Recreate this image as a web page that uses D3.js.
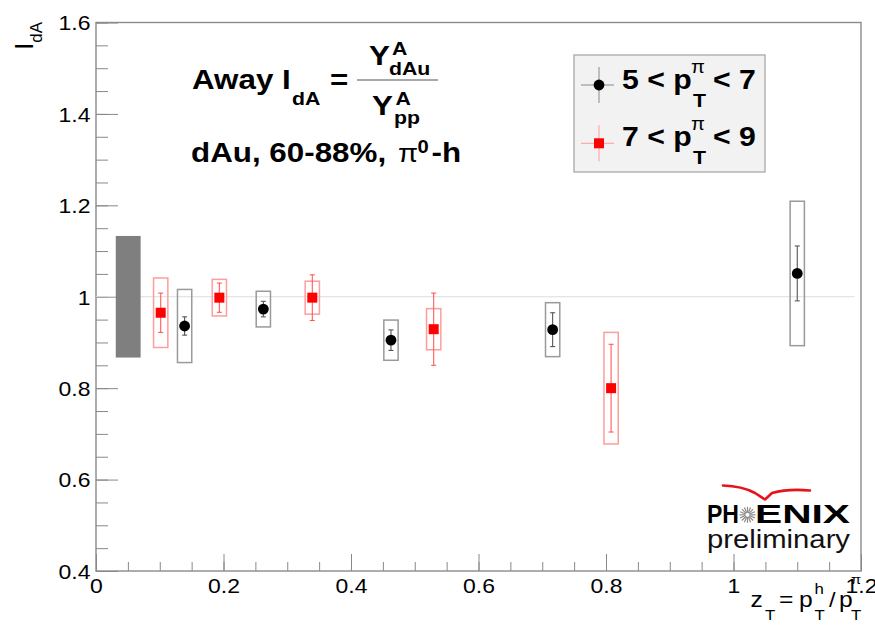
<!DOCTYPE html>
<html>
<head>
<meta charset="utf-8">
<script src="https://cdn.jsdelivr.net/npm/d3@7"></script>
<style>
  html, body { margin: 0; padding: 0; background: #fff; }
  svg { display: block; }
</style>
</head>
<body>
<svg id="chart" width="875" height="637"></svg>
<script>
// ---------------- data ----------------
const xTicks = [0, 0.2, 0.4, 0.6, 0.8, 1, 1.2];
const yTicks = [0.4, 0.6, 0.8, 1, 1.2, 1.4, 1.6];

// 5 < pT(pi) < 7  (black circles)
const blackX    = [0.139, 0.2625, 0.4627, 0.7163, 1.100];
const blackY    = [0.936, 0.973, 0.905, 0.928, 1.051];
const blackStat = [0.020, 0.017, 0.0225, 0.037, 0.060];
const blackSys  = [0.080, 0.039, 0.044, 0.059, 0.158];

// 7 < pT(pi) < 9  (red squares)
const redX    = [0.1015, 0.1935, 0.3393, 0.5297, 0.808];
const redY    = [0.965, 0.998, 0.998, 0.929, 0.800];
const redStat = [0.043, 0.032, 0.050, 0.079, 0.096];
const redSys  = [0.076, 0.040, 0.036, 0.045, 0.122];

// global normalisation uncertainty band
const normBand = { x0: 0.031, x1: 0.070, lo: 0.867, hi: 1.133 };
const sysHalfWidth = 0.0112;
const refLine = { x0: 0, x1: 1.19, y: 1 };

// ---------------- setup ----------------
const FF = '"Liberation Sans", Arial, Helvetica, sans-serif';
const SX = 1.12;
const svg = d3.select('#chart');
const x = d3.scaleLinear([0, 1.2], [96, 861]);
const y = d3.scaleLinear([0.4, 1.6], [571, 22.5]);

function T(parent, px, py, str, o = {}) {
  const t = parent.append('text')
    .attr('transform', `translate(${px},${py}) scale(${o.sx ?? SX},1)`)
    .attr('font-family', o.family || FF)
    .attr('font-size', o.size || 20)
    .attr('font-weight', o.weight || 'normal')
    .attr('text-anchor', o.anchor || 'start')
    .attr('fill', o.fill || '#000')
    .text(str);
  if (o.len) t.attr('textLength', o.len).attr('lengthAdjust', 'spacingAndGlyphs');
  return t;
}

// ---------------- frame & axes ----------------
const fmt = d => (d === 0 || d === 1) ? String(d) : d3.format('.1f')(d);

// minor ticks
svg.append('g').attr('transform', `translate(0,${y(0.4)})`)
  .call(d3.axisBottom(x).tickValues(d3.range(0, 1.2001, 0.05)).tickSize(-9).tickFormat(''))
  .call(g => g.select('.domain').remove())
  .call(g => g.selectAll('line').attr('stroke', '#888'));
svg.append('g').attr('transform', `translate(${x(0)},0)`)
  .call(d3.axisLeft(y).tickValues(d3.range(0.4, 1.6001, 0.05)).tickSize(-12).tickFormat(''))
  .call(g => g.select('.domain').remove())
  .call(g => g.selectAll('line').attr('stroke', '#888'));

// major ticks + labels
const xa = svg.append('g').attr('transform', `translate(0,${y(0.4)})`)
  .call(d3.axisBottom(x).tickValues(xTicks).tickSize(-17).tickFormat(fmt))
  .call(g => g.select('.domain').remove())
  .call(g => g.selectAll('line').attr('stroke', '#888'));
xa.selectAll('text')
  .attr('y', null).attr('dy', null)
  .attr('transform', `translate(0,21.5) scale(${SX},1)`)
  .attr('font-family', FF).attr('font-size', 20.5).attr('fill', '#000');

const ya = svg.append('g').attr('transform', `translate(${x(0)},0)`)
  .call(d3.axisLeft(y).tickValues(yTicks).tickSize(-22).tickFormat(fmt))
  .call(g => g.select('.domain').remove())
  .call(g => g.selectAll('line').attr('stroke', '#888'));
ya.selectAll('text')
  .attr('x', null).attr('dy', null)
  .attr('transform', `translate(-5.5,7.3) scale(${SX},1)`)
  .attr('font-family', FF).attr('font-size', 20.5).attr('fill', '#000');

// frame
svg.append('rect')
  .attr('x', x(0)).attr('y', y(1.6))
  .attr('width', x(1.2) - x(0)).attr('height', y(0.4) - y(1.6))
  .attr('fill', 'none').attr('stroke', '#8a8a8a').attr('stroke-width', 1.4);

// axis titles
const yt = svg.append('text')
  .attr('transform', `translate(33,22) rotate(-90)`)
  .attr('font-family', FF).attr('font-size', 25).attr('text-anchor', 'end');
yt.append('tspan').text('I');
yt.append('tspan').attr('font-size', 17).attr('dy', 9).text('dA');

T(svg, 750.5, 607, 'z', { size: 22 });
T(svg, 765, 620, 'T', { size: 15 });
T(svg, 779, 607, '=', { size: 22 });
T(svg, 799, 607, 'p', { size: 22 });
T(svg, 814.5, 594, 'h', { size: 15 });
T(svg, 814.5, 620, 'T', { size: 15 });
T(svg, 829, 607, '/', { size: 21 });
T(svg, 839, 607, 'p', { size: 22 });
T(svg, 851, 584, 'π', { size: 13 });
T(svg, 851, 620, 'T', { size: 15 });

// ---------------- plot content ----------------
// reference line at 1
svg.append('line')
  .attr('x1', x(refLine.x0)).attr('x2', x(refLine.x1))
  .attr('y1', y(refLine.y)).attr('y2', y(refLine.y))
  .attr('stroke', '#dcdcdc').attr('stroke-width', 1.2);

// normalisation band
svg.append('rect')
  .attr('x', x(normBand.x0)).attr('y', y(normBand.hi))
  .attr('width', x(normBand.x1) - x(normBand.x0))
  .attr('height', y(normBand.lo) - y(normBand.hi))
  .attr('fill', '#7f7f7f');

function series(xs, ys, stat, sys, boxColor, barColor, marker) {
  const data = xs.map((v, i) => ({ x: v, y: ys[i], e: stat[i], s: sys[i] }));
  const g = svg.append('g');
  g.selectAll('rect.sys').data(data).join('rect').attr('class', 'sys')
    .attr('x', d => x(d.x - sysHalfWidth))
    .attr('width', d => x(d.x + sysHalfWidth) - x(d.x - sysHalfWidth))
    .attr('y', d => y(d.y + d.s))
    .attr('height', d => y(d.y - d.s) - y(d.y + d.s))
    .attr('fill', 'none').attr('stroke', boxColor).attr('stroke-width', 1.5);
  g.selectAll('line.err').data(data).join('line').attr('class', 'err')
    .attr('x1', d => x(d.x)).attr('x2', d => x(d.x))
    .attr('y1', d => y(d.y + d.e)).attr('y2', d => y(d.y - d.e))
    .attr('stroke', barColor).attr('stroke-width', 1.1);
  ['+', '-'].forEach(sgn => {
    g.selectAll('line.cap' + (sgn === '+' ? 'u' : 'd')).data(data).join('line')
      .attr('class', 'cap' + (sgn === '+' ? 'u' : 'd'))
      .attr('x1', d => x(d.x) - 2.5).attr('x2', d => x(d.x) + 2.5)
      .attr('y1', d => y(sgn === '+' ? d.y + d.e : d.y - d.e))
      .attr('y2', d => y(sgn === '+' ? d.y + d.e : d.y - d.e))
      .attr('stroke', barColor).attr('stroke-width', 1.1);
  });
  if (marker === 'circle') {
    g.selectAll('circle').data(data).join('circle')
      .attr('cx', d => x(d.x)).attr('cy', d => y(d.y)).attr('r', 5.4).attr('fill', '#000');
  } else {
    g.selectAll('rect.m').data(data).join('rect').attr('class', 'm')
      .attr('x', d => x(d.x) - 5).attr('y', d => y(d.y) - 5)
      .attr('width', 10).attr('height', 10).attr('fill', '#ff0000');
  }
}
series(blackX, blackY, blackStat, blackSys, '#9a9a9a', '#555', 'circle');
series(redX, redY, redStat, redSys, '#ff9c9c', '#ff5a5a', 'square');

// ---------------- annotation text ----------------
T(svg, 192, 89.3, 'Away I', { size: 28, weight: 'bold' });
T(svg, 292, 105, 'dA', { size: 19, weight: 'bold' });
T(svg, 330, 89.3, '=', { size: 28, weight: 'bold' });
svg.append('line').attr('x1', 357).attr('x2', 438).attr('y1', 80).attr('y2', 80)
  .attr('stroke', '#a8a8a8').attr('stroke-width', 2);
T(svg, 369, 65, 'Y', { size: 28, weight: 'bold' });
T(svg, 392, 55, 'A', { size: 19, weight: 'bold' });
T(svg, 389, 75, 'dAu', { size: 19, weight: 'bold' });
T(svg, 372, 115, 'Y', { size: 28, weight: 'bold' });
T(svg, 395.5, 105, 'A', { size: 19, weight: 'bold' });
T(svg, 394, 124, 'pp', { size: 19, weight: 'bold' });

T(svg, 191, 162.3, 'dAu, 60-88%, ', { size: 28, weight: 'bold' });
T(svg, 398, 162.3, 'π', { size: 26 });
T(svg, 417.5, 153, '0', { size: 18, weight: 'bold' });
T(svg, 431.5, 162.3, '-h', { size: 28, weight: 'bold' });

// ---------------- legend ----------------
const lg = svg.append('g');
lg.append('rect').attr('x', 574).attr('y', 55).attr('width', 191).attr('height', 117)
  .attr('fill', '#f2f2f2').attr('stroke', '#a8a8a8').attr('stroke-width', 1.3);
const legendRows = [
  { lo: '5', hi: '7', y: 85, dy: 0, color: '#000', line: '#8a8a8a', marker: 'circle' },
  { lo: '7', hi: '9', y: 143.3, dy: 57, color: '#ff0000', line: '#ff9c9c', marker: 'square' }
];
legendRows.forEach(r => {
  lg.append('line').attr('x1', 581).attr('x2', 614).attr('y1', r.y).attr('y2', r.y).attr('stroke', r.line);
  lg.append('line').attr('x1', 599).attr('x2', 599).attr('y1', r.y - 18).attr('y2', r.y + 18).attr('stroke', r.line);
  if (r.marker === 'circle') lg.append('circle').attr('cx', 599).attr('cy', r.y).attr('r', 5.4).attr('fill', r.color);
  else lg.append('rect').attr('x', 594).attr('y', r.y - 5).attr('width', 10).attr('height', 10).attr('fill', r.color);
  T(lg, 622, 89.3 + r.dy, r.lo + ' < p', { size: 27, weight: 'bold' });
  T(lg, 691, 73 + r.dy, 'π', { size: 18 });
  T(lg, 693, 106.7 + r.dy, 'T', { size: 19, weight: 'bold' });
  T(lg, 713, 89.3 + r.dy, '< ' + r.hi, { size: 27, weight: 'bold' });
});

// ---------------- PHENIX logo ----------------
const logo = svg.append('g');
logo.append('path')
  .attr('d', 'M723,485.5 Q742,486 755,493 L765,499.5 L772,493 Q788,488.5 810,490.5')
  .attr('fill', 'none').attr('stroke', '#e8121a').attr('stroke-width', 2.6)
  .attr('stroke-linecap', 'round').attr('stroke-linejoin', 'round');
T(logo, 707, 523.3, 'PH', { size: 25, weight: 'bold', sx: 1 , len: 32});
const cx = 747.5, cy = 514.8;
d3.range(16).forEach(i => {
  const a = i * Math.PI / 8;
  logo.append('line')
    .attr('x1', cx + 2 * Math.cos(a)).attr('y1', cy + 2 * Math.sin(a))
    .attr('x2', cx + 8 * Math.cos(a)).attr('y2', cy + 8 * Math.sin(a))
    .attr('stroke', '#8c8c8c').attr('stroke-width', 1.2);
});
T(logo, 755, 523.3, 'ENIX', { size: 25, weight: 'bold', sx: 1, len: 95 });
T(logo, 707, 548.3, 'preliminary', { size: 25.5, fill: '#111', sx: 1, len: 143 });
</script>
</body>
</html>
